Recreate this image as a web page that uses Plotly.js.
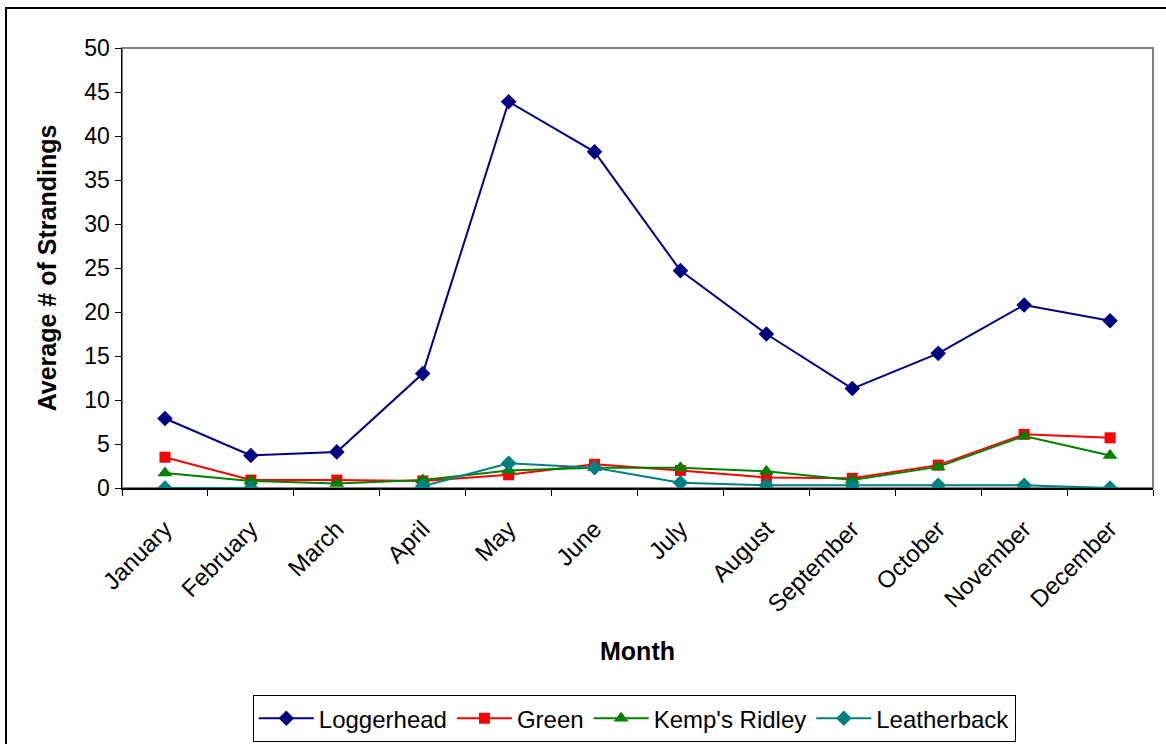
<!DOCTYPE html>
<html>
<head>
<meta charset="utf-8">
<script src="https://cdn.plot.ly/plotly-3.0.1.min.js"></script>
<style>
  html, body { margin: 0; padding: 0; background: #fff; overflow: hidden; }
  #chart { position: absolute; left: 0; top: 0; width: 1166px; height: 744px; }
  #frame { position: absolute; left: 5px; top: 7px; width: 1200px; height: 800px; border: 2px solid #000; pointer-events: none; }
</style>
</head>
<body>
<div id="chart"></div>
<div id="frame"></div>
<script>
const months = ["January","February","March","April","May","June","July","August","September","October","November","December"];
const loggerhead = [7.9, 3.7, 4.1, 13.0, 43.9, 38.2, 24.7, 17.5, 11.3, 15.3, 20.8, 19.0];
const green = [3.5, 0.9, 0.9, 0.8, 1.5, 2.7, 2.0, 1.2, 1.1, 2.6, 6.1, 5.7];
const kempsRidley = [1.7, 0.8, 0.5, 0.9, 2.0, 2.3, 2.3, 1.9, 0.9, 2.4, 5.9, 3.7];
const leatherback = [0, 0, null, 0.2, 2.8, 2.3, 0.6, 0.3, 0.3, 0.3, 0.3, 0];

const seriesNames = ["Loggerhead", "Green", "Kemp's Ridley", "Leatherback"];
const seriesValues = [loggerhead, green, kempsRidley, leatherback];
const seriesColors = ["#000080", "#FF0000", "#008000", "#008080"];
const seriesSymbols = ["diamond", "square", "triangle-up", "diamond"];
const seriesSizes = [12, 11, 13, 12];

const traces = seriesNames.map((name, i) => ({
  x: months,
  y: seriesValues[i],
  name: name,
  type: "scatter",
  mode: "lines+markers",
  connectgaps: false,
  line: { color: seriesColors[i], width: 2 },
  marker: { color: seriesColors[i], symbol: seriesSymbols[i], size: seriesSizes[i], line: { width: 0 } }
}));

const font = "Arial, 'Liberation Sans', sans-serif";

const layout = {
  width: 1166,
  height: 744,
  margin: { l: 122, r: 13, t: 48, b: 256 },
  paper_bgcolor: "#fff",
  plot_bgcolor: "#fff",
  font: { family: font, color: "#000", size: 23 },
  showlegend: true,
  legend: {
    orientation: "h",
    xref: "container", yref: "container",
    x: 0.544, xanchor: "center",
    y: 0.034, yanchor: "middle",
    bordercolor: "#000", borderwidth: 1,
    font: { family: font, size: 24, color: "#000" },
    itemwidth: 55,
    tracegroupgap: 0
  },
  xaxis: {
    type: "category",
    range: [-0.5, 11.5],
    automargin: false,
    showgrid: false,
    zeroline: false,
    showline: true,
    linecolor: "#000",
    linewidth: 1.5,
    ticks: "outside",
    ticklen: 6,
    tickcolor: "#000",
    tickson: "boundaries",
    tickangle: -45,
    ticklabelstandoff: 16,
    tickfont: { family: font, size: 24, color: "#000" },
    title: { text: "<b>Month</b>", font: { family: font, size: 25, color: "#000" }, standoff: 26 }
  },
  yaxis: {
    range: [0, 50],
    dtick: 5,
    automargin: false,
    showgrid: false,
    zeroline: false,
    showline: true,
    linecolor: "#000",
    linewidth: 1.5,
    ticks: "outside",
    ticklen: 6,
    tickcolor: "#000",
    tickfont: { family: font, size: 23, color: "#000" },
    title: { text: "<b>Average # of Strandings</b>", font: { family: font, size: 25, color: "#000" }, standoff: 20 }
  },
  shapes: [
    { type: "rect", xref: "paper", yref: "paper", x0: 0, x1: 1, y0: 0, y1: 1,
      line: { color: "#808080", width: 2 }, fillcolor: "rgba(0,0,0,0)", layer: "below" }
  ]
};

Plotly.newPlot("chart", traces, layout, { displayModeBar: false, staticPlot: true });
</script>
</body>
</html>
